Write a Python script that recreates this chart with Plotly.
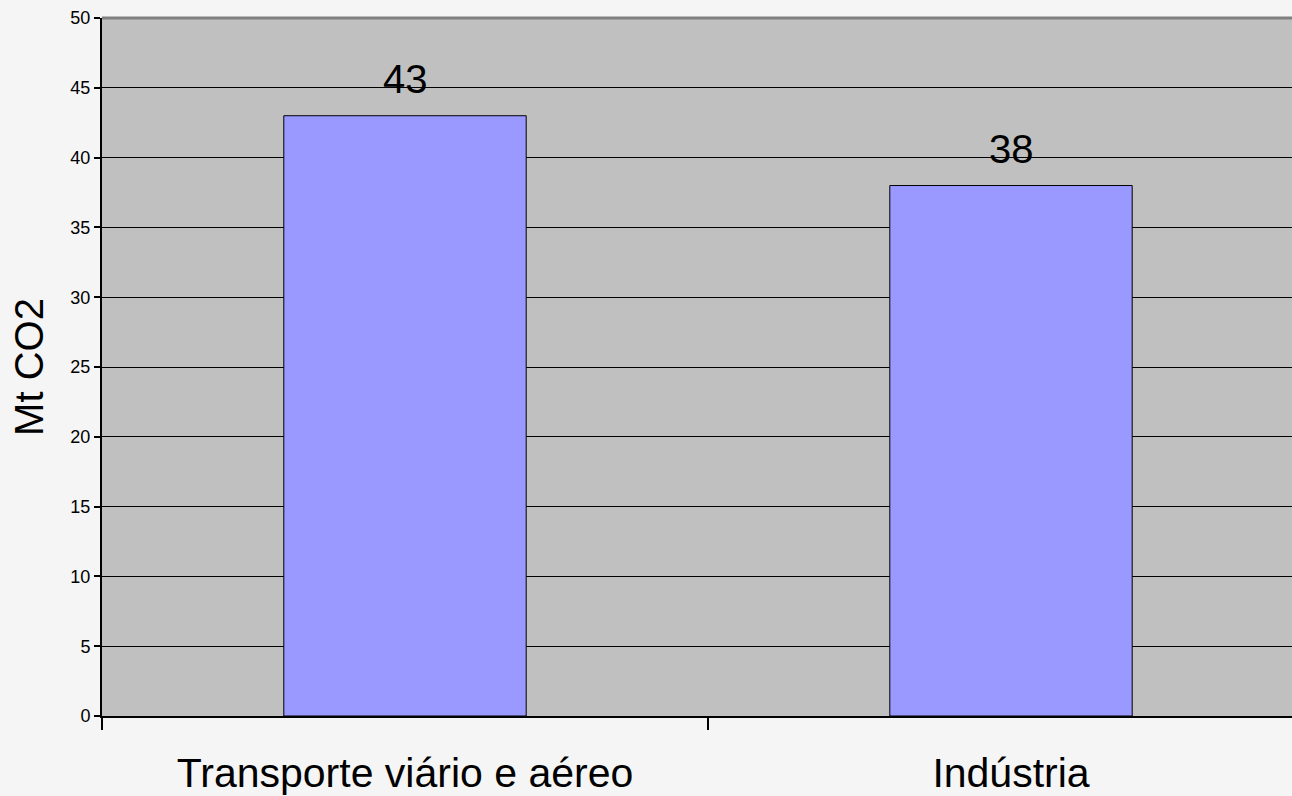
import plotly.graph_objects as go

categories = ["Transporte viário e aéreo", "Indústria"]
values = [43, 38]
value_labels = ["43", "38"]
y_ticks = [0, 5, 10, 15, 20, 25, 30, 35, 40, 45, 50]

FONT = "Liberation Sans, Arial, sans-serif"

fig = go.Figure()
fig.add_trace(go.Bar(
    x=categories,
    y=values,
    width=0.4,
    marker=dict(color="#9999ff", line=dict(color="#000000", width=1)),
    hoverinfo="skip",
))

for c, v, t in zip(categories, values, value_labels):
    fig.add_annotation(
        x=c, y=v, text=t, showarrow=False,
        xanchor="center", yanchor="bottom", yshift=13,
        font=dict(family=FONT, size=40, color="#000000"),
    )

# top frame of the plot area
fig.add_shape(type="line", xref="paper", yref="paper", x0=0, x1=1, y0=1, y1=1,
              line=dict(color="#808080", width=3), layer="above")

fig.update_layout(
    width=1292, height=796,
    margin=dict(l=102, r=0, t=18, b=80),
    paper_bgcolor="#f5f5f5",
    plot_bgcolor="#c0c0c0",
    showlegend=False,
    bargap=0.6,
    xaxis=dict(
        type="category",
        range=[-0.5, -0.5 + 1190 / 606],
        tickson="boundaries",
        ticks="outside", ticklen=12, tickwidth=2, tickcolor="#000000",
        showline=True, linecolor="#000000", linewidth=2,
        showgrid=False, zeroline=False,
        ticklabelstandoff=20,
        tickfont=dict(family=FONT, size=41, color="#000000"),
    ),
    yaxis=dict(
        range=[0, 50],
        tickvals=y_ticks,
        ticks="outside", ticklen=6, tickwidth=2, tickcolor="#000000",
        showline=True, linecolor="#000000", linewidth=2,
        showgrid=True, gridcolor="#000000", gridwidth=1,
        zeroline=False,
        tickfont=dict(family=FONT, size=18, color="#000000"),
        title=dict(text="Mt CO2", font=dict(family=FONT, size=40, color="#000000"), standoff=14),
    ),
)

fig.write_html(
    "out.html",
    config={"displayModeBar": False},
    post_script="document.body.style.margin='0';document.body.style.overflow='hidden';",
)
